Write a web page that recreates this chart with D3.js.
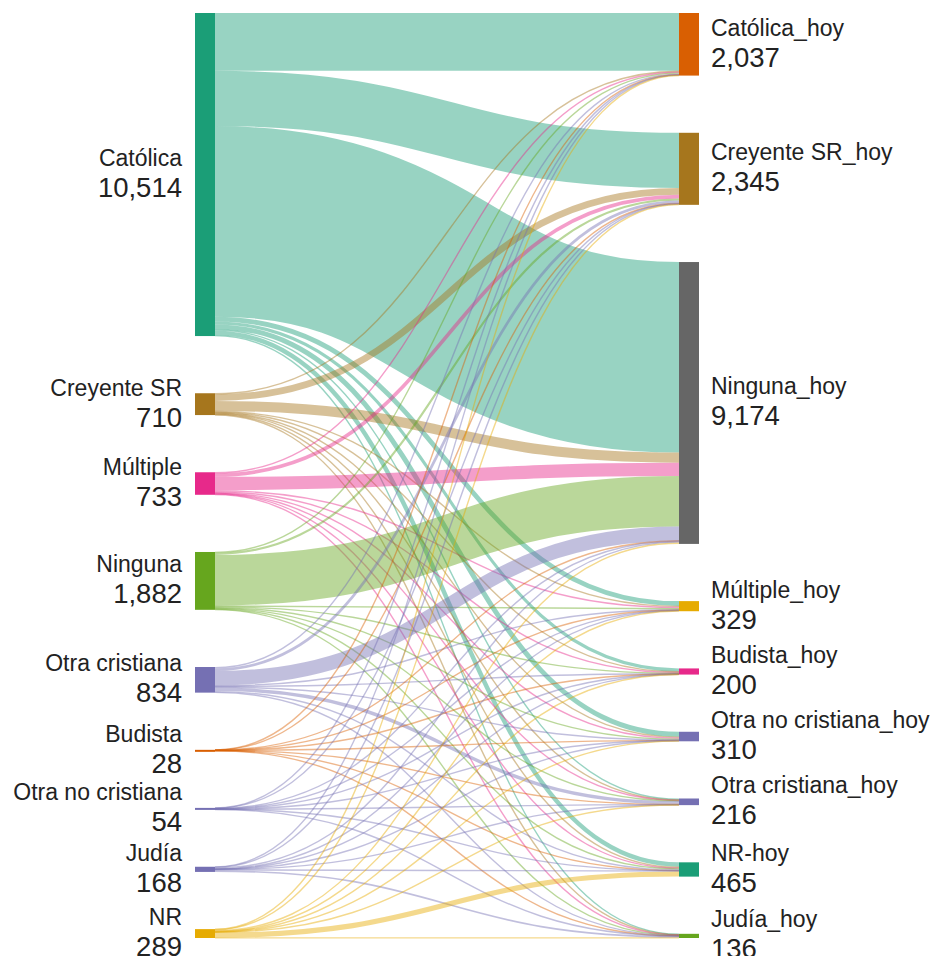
<!DOCTYPE html>
<html>
<head>
<meta charset="utf-8">
<script src="https://d3js.org/d3.v7.min.js"></script>
<style>
body { margin: 0; background: #fff; }
.lbl { font-family: "Liberation Sans", Arial, sans-serif; fill: #222; }
</style>
</head>
<body>
<div id="chart"></div>
<script>
// left column (before) and right column (today)
var sources = ["Católica", "Creyente SR", "Múltiple", "Ninguna", "Otra cristiana",
               "Budista", "Otra no cristiana", "Judía", "NR"];
var targets = ["Católica_hoy", "Creyente SR_hoy", "Ninguna_hoy", "Múltiple_hoy", "Budista_hoy",
               "Otra no cristiana_hoy", "Otra cristiana_hoy", "NR-hoy", "Judía_hoy"];

// flows[i][j] = from sources[i] to targets[j]
var flows = [
  [1883, 1797, 6202, 155, 100, 160,  45, 145,  27],
  [  30,  220,  330,  30,  20,  30,  12,  30,   8],
  [  30,  120,  430,  45,  25,  35,  12,  25,  11],
  [  25,   70, 1647,  35,  20,  30,  15,  30,  10],
  [  40,   90,  468,  30,  15,  25, 112,  40,  14],
  [   3,    5,    6,   3,   5,   2,   1,   2,   1],
  [   6,    8,   12,   6,   5,   8,   3,   3,   3],
  [  10,   15,   40,  10,   4,   8,   6,  20,  55],
  [  10,   20,   39,  15,   6,  12,  10, 170,   7]
];

var sourceColors = ["#1b9e77", "#a6761d", "#e7298a", "#66a61e", "#7570b3",
                    "#d95f02", "#7570b3", "#7570b3", "#e6ab02"];
var targetColors = ["#d95f02", "#a6761d", "#666666", "#e6ab02", "#e7298a",
                    "#7570b3", "#7570b3", "#1b9e77", "#66a61e"];

var W = 936, H = 956;
var top0 = 13, bottom0 = 938, pad = 57.2, nodeW = 20;

var svg = d3.select("#chart").append("svg")
    .attr("width", W)
    .attr("height", H);

var fmt = d3.format(",");

var srcTotals = flows.map(function(r) { return d3.sum(r); });
var tgtTotals = targets.map(function(t, j) { return d3.sum(flows, function(r) { return r[j]; }); });
var total = d3.sum(srcTotals);

// value -> pixel height
var k = d3.scaleLinear()
    .domain([0, total])
    .range([0, (bottom0 - top0) - (sources.length - 1) * pad]);

var colX = d3.scaleOrdinal().domain(["src", "tgt"]).range([195, 679]);

function stack(names, totals, colors, side) {
  var y = top0;
  return names.map(function(n, i) {
    var node = {name: n, value: totals[i], color: colors[i], side: side,
                x0: colX(side), x1: colX(side) + nodeW, y0: y, y1: y + k(totals[i])};
    y = node.y1 + pad;
    return node;
  });
}
var srcNodes = stack(sources, srcTotals, sourceColors, "src");
var tgtNodes = stack(targets, tgtTotals, targetColors, "tgt");

// links, stacked in node order at both ends
var links = [];
flows.forEach(function(row, i) {
  row.forEach(function(v, j) {
    links.push({s: i, t: j, value: v, width: k(v)});
  });
});
srcNodes.forEach(function(n, i) {
  var y = n.y0;
  links.filter(function(l) { return l.s == i; })
    .sort(function(a, b) { return a.t - b.t; })
    .forEach(function(l) { l.sy = y + l.width / 2; y += l.width; });
});
tgtNodes.forEach(function(n, j) {
  var y = n.y0;
  links.filter(function(l) { return l.t == j; })
    .sort(function(a, b) { return a.s - b.s; })
    .forEach(function(l) { l.ty = y + l.width / 2; y += l.width; });
});

var linkPath = d3.linkHorizontal()
    .source(function(d) { return [srcNodes[d.s].x1, d.sy]; })
    .target(function(d) { return [tgtNodes[d.t].x0, d.ty]; });

svg.append("g")
    .attr("fill", "none")
  .selectAll("path")
  .data(links)
  .enter()
  .append("path")
    .attr("d", linkPath)
    .attr("stroke", function(d) { return srcNodes[d.s].color; })
    .attr("stroke-opacity", 0.45)
    .attr("stroke-width", function(d) { return Math.max(1.4, d.width); });

var allNodes = srcNodes.concat(tgtNodes);

svg.append("g")
  .selectAll("rect")
  .data(allNodes)
  .enter()
  .append("rect")
    .attr("x", function(d) { return d.x0; })
    .attr("y", function(d) { return d.y0; })
    .attr("width", nodeW)
    .attr("height", function(d) { return Math.max(2, d.y1 - d.y0); })
    .attr("fill", function(d) { return d.color; });

var lbl = svg.append("g")
  .selectAll("g")
  .data(allNodes)
  .enter()
  .append("g")
    .attr("class", "lbl")
    .attr("text-anchor", function(d) { return d.side == "src" ? "end" : "start"; })
    .attr("transform", function(d) {
      var x = d.side == "src" ? d.x0 - 13 : d.x1 + 12;
      return "translate(" + x + "," + ((d.y0 + d.y1) / 2) + ")";
    });

lbl.append("text")
    .attr("y", -8.5)
    .style("font-size", "23px")
    .text(function(d) { return d.name; });
lbl.append("text")
    .attr("y", 22.5)
    .style("font-size", "27.5px")
    .text(function(d) { return fmt(d.value); });
</script>
</body>
</html>
